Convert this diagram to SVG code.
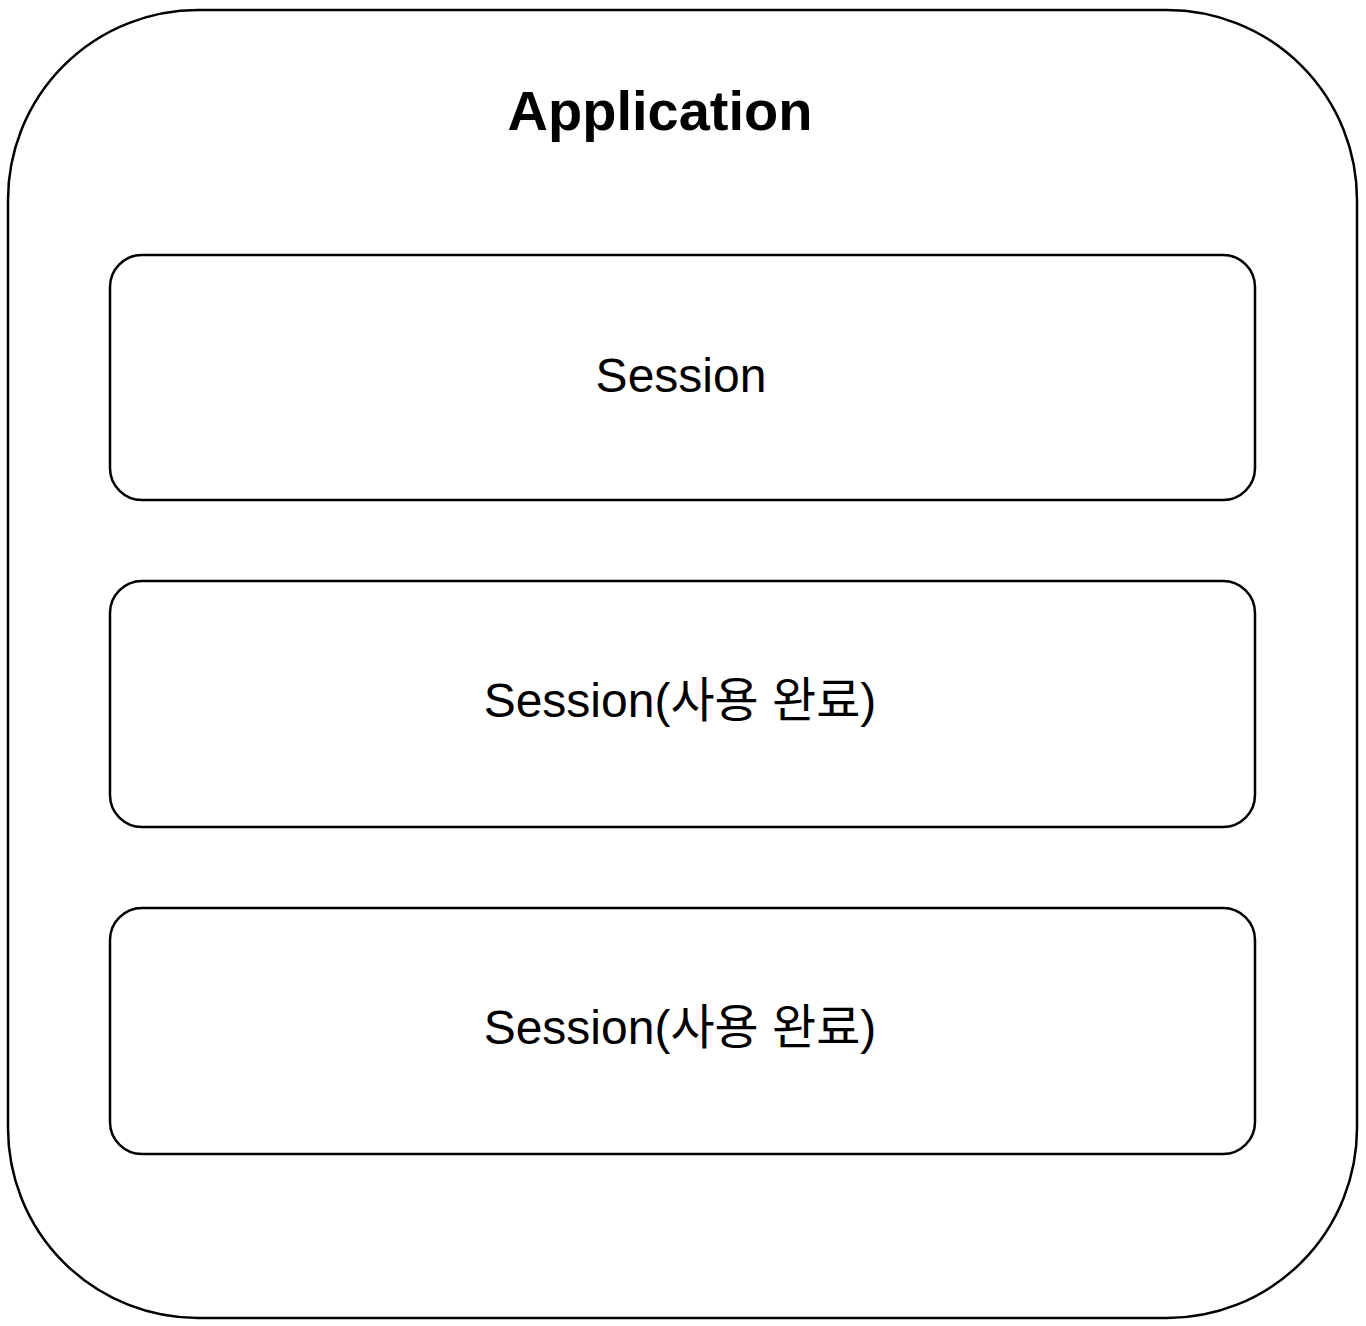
<svg xmlns="http://www.w3.org/2000/svg" width="1366" height="1326" viewBox="0 0 1366 1326">
<style>
.box{fill:#fff;stroke:#000;stroke-width:2.5}
.lbl{font-family:"Liberation Sans","Noto Sans CJK KR",Arial,sans-serif;font-size:48px;fill:#000;text-anchor:middle}
.title{font-family:"Liberation Sans",Arial,sans-serif;font-size:56px;font-weight:bold;fill:#000;text-anchor:middle}
</style>
<rect width="1366" height="1326" fill="#fff"/>
<g id="application">
<rect class="box" x="8" y="10" width="1349" height="1308" rx="190" ry="190"/>
<text class="title" x="660" y="130">Application</text>
</g>
<g id="session1">
<rect class="box" x="110" y="255" width="1145" height="245" rx="32" ry="32"/>
<text class="lbl" x="681" y="392">Session</text>
</g>
<g id="session2">
<rect class="box" x="110" y="581" width="1145" height="246" rx="32" ry="32"/>
<text class="lbl" x="680" y="717">Session(사용 완료)</text>
</g>
<g id="session3">
<rect class="box" x="110" y="908" width="1145" height="246" rx="32" ry="32"/>
<text class="lbl" x="680" y="1044">Session(사용 완료)</text>
</g>
<g id="connectors"></g>
</svg>
